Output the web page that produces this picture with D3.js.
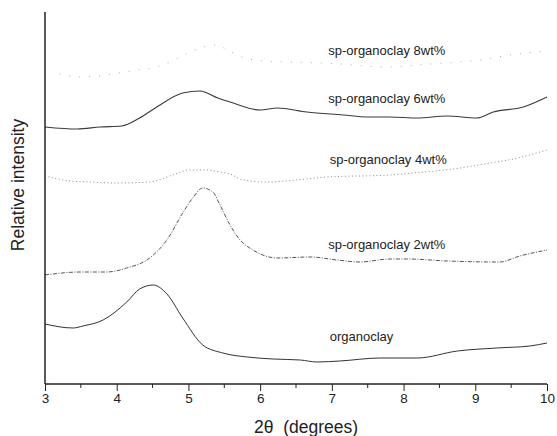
<!DOCTYPE html>
<html lang="en">
<head>
    <title>XRD patterns</title>
    <script src="https://d3js.org/d3.v7.min.js"></script>
    <style>
        body { margin: 0; background: #fff; }
        text { font-family: "Liberation Sans", Arial, sans-serif; fill: #222; }
        .axis path, .axis line { stroke: #222; }
        .curve { fill: none; }
    </style>
</head>
<body>

<script>
    // 2-theta (degrees) vs relative intensity (arbitrary units, curves offset)
    const organoclay = [[3.00,60],[3.39,56],[3.53,58],[3.81,64],[4.14,82],[4.32,95],[4.51,99],[4.70,90],
        [4.92,66],[5.20,39],[5.48,31],[5.82,27],[6.18,25],[6.56,24],[6.79,22],[7.11,23],[7.67,26],
        [8.19,26],[8.75,33],[9.30,36],[9.76,38],[10.00,41]];
    const wt2 = [[3.00,109],[3.49,112],[3.86,112],[4.14,116],[4.46,126],[4.70,144],[4.92,171],[5.06,186],
        [5.20,196],[5.34,192],[5.44,179],[5.58,159],[5.72,144],[5.90,134],[6.24,126],[6.70,127],
        [7.07,124],[7.39,122],[7.81,125],[8.05,125],[8.61,123],[9.34,122],[9.62,128],[10.00,134]];
    const wt4 = [[3.00,208],[3.35,203],[3.63,202],[3.98,201],[4.46,202],[4.78,209],[5.02,214],[5.26,214],
        [5.44,212],[5.58,210],[5.76,204],[6.10,202],[6.51,204],[6.93,207],[7.81,209],[8.13,211],
        [8.69,215],[9.21,221],[9.53,225],[10.00,234]];
    const wt6 = [[3.00,257],[3.45,255],[3.77,257],[4.07,258],[4.32,266],[4.56,277],[4.92,291],[5.16,293],
        [5.41,286],[5.58,282],[6.00,274],[6.24,276],[6.65,272],[7.16,269],[7.49,267],[7.81,267],
        [8.19,266],[8.61,268],[9.02,266],[9.25,272],[9.67,277],[10.00,287]];
    const wt8 = [[3.20,310],[3.52,307],[4.30,314],[4.42,315],[4.78,323],[5.02,332],[5.40,339],[5.54,334],
        [5.79,326],[6.07,323],[6.42,322],[6.83,321],[7.11,320],[7.74,317],[8.37,320],[9.07,324],
        [9.48,329],[10.00,333]];

    const labels = ["organoclay", "sp-organoclay 2wt%", "sp-organoclay 4wt%", "sp-organoclay 6wt%", "sp-organoclay 8wt%"];
    const labelPos = [[6.97,43], [6.95,135], [6.97,220], [6.95,281], [6.95,329]];
    const xTicks = [3, 4, 5, 6, 7, 8, 9, 10];

    const series = [
        {data: organoclay, color: "#333", width: 1, dash: null},
        {data: wt2, color: "#555", width: 1, dash: "4,1.5,1,1.5"},
        {data: wt4, color: "#8a8a8a", width: 1, dash: "1,2.5"},
        {data: wt6, color: "#3a3a3a", width: 1.1, dash: null},
        {data: wt8, color: "#aaa", width: 1, dash: "1,9"}
    ];

    const width = 557, height = 436;
    const svg = d3.select("body").append("svg").attr("width", width).attr("height", height);

    const x = d3.scaleLinear().domain([3, 10]).range([45, 547]);
    const y = d3.scaleLinear().domain([0, 372]).range([384, 12]);

    const line = d3.line().x(d => x(d[0])).y(d => y(d[1])).curve(d3.curveMonotoneX);

    svg.selectAll("path.curve").data(series).enter().append("path")
        .attr("class", "curve")
        .attr("d", d => line(d.data))
        .attr("stroke", d => d.color)
        .attr("stroke-width", d => d.width)
        .attr("stroke-dasharray", d => d.dash);

    // x axis with half-unit minor ticks
    const xAxis = d3.axisBottom(x).tickValues(xTicks).tickSize(7).tickFormat(d3.format("d"));
    const gx = svg.append("g").attr("class", "axis").attr("transform", "translate(0,384)").call(xAxis);
    gx.select(".domain").attr("stroke-width", 1.5).attr("d", "M45,0H547");
    gx.selectAll(".tick text").attr("font-size", 13.5).attr("font-family", "Liberation Sans, Arial, sans-serif").attr("dy", "0.65em");
    svg.append("g").attr("class", "axis").selectAll("line")
        .data(d3.range(3.5, 10, 1)).enter().append("line")
        .attr("x1", d => x(d)).attr("x2", d => x(d))
        .attr("y1", 384).attr("y2", 388).attr("stroke", "#222");

    // y axis: plain line, no ticks
    svg.append("line").attr("x1", 45).attr("x2", 45).attr("y1", y(372)).attr("y2", 384)
        .attr("stroke", "#222").attr("stroke-width", 1.5);

    svg.selectAll("text.lbl").data(labels).enter().append("text")
        .attr("class", "lbl")
        .attr("x", (d, i) => x(labelPos[i][0]))
        .attr("y", (d, i) => y(labelPos[i][1]))
        .attr("font-size", 13)
        .text(d => d);

    svg.append("text").attr("x", 306).attr("y", 433).attr("text-anchor", "middle")
        .attr("font-size", 17.5).attr("xml:space", "preserve").style("white-space", "pre")
        .text("2θ  (degrees)");

    svg.append("text").attr("transform", "translate(24,185) rotate(-90)")
        .attr("text-anchor", "middle").attr("font-size", 17.5)
        .text("Relative intensity");
</script>

</body>
</html>
